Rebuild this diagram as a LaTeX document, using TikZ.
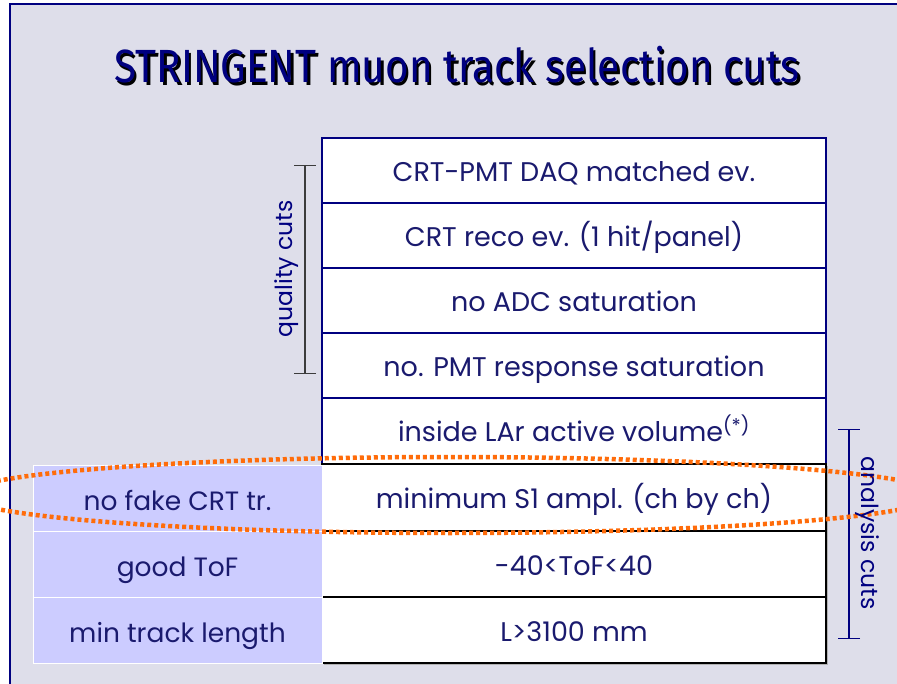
\documentclass[tikz,border=0pt]{standalone}
\usepackage{fontspec}
\setmainfont{Poppins}
\newfontfamily\titlefont{Fira Sans}
\usetikzlibrary{arrows.meta,shadows}
\definecolor{bgcol}{RGB}{222,222,234}
\definecolor{navy}{RGB}{0,0,128}
\definecolor{txtcol}{RGB}{26,26,110}
\definecolor{shade}{RGB}{204,204,255}
\definecolor{dotorange}{RGB}{255,108,10}
\newcommand{\titletext}{STRINGENT muon track selection cuts}
\tikzset{
  cutcell/.style={draw=navy,line width=2pt,fill=white,minimum width=504pt,minimum height=65pt,
    inner sep=0pt,text height=22pt,text depth=0pt,text=txtcol,font=\fontsize{27}{32}\selectfont},
  anacell/.style={cutcell,draw=black,drop shadow={shadow xshift=2pt,shadow yshift=-2pt,fill=gray!60,opacity=1}},
  sidecell/.style={draw=white,line width=0.8pt,fill=shade,minimum width=289pt,minimum height=66pt,
    inner sep=0pt,text height=24pt,text depth=0pt,text=txtcol,font=\fontsize{26.5}{32}\selectfont},
  cutlabel/.style={text=navy,inner sep=0pt,font=\fontsize{23.5}{28}\selectfont},
  cutbrace/.style={line width=1.3pt,{Bar[width=22pt]}-{Bar[width=22pt]}},
}
\begin{document}
\begin{tikzpicture}[x=1pt,y=-1pt]
\useasboundingbox (0,0) rectangle (897,684);
\draw[navy,line width=2pt,fill=bgcol] (10,4) rectangle (910,700);
\node at (457,66) (title) {\titlefont\fontsize{40.5}{46}\selectfont\scalebox{1}[1.15]{\makebox[0pt][l]{\kern2.5pt\raisebox{-2.5pt}{\color{black}\titletext}}\color{navy}\titletext}};

\node[cutcell] at (574,171) (daq) {CRT-PMT DAQ matched ev.};
\node[cutcell] at (574,236) (reco) {CRT reco ev. (1 hit/panel)};
\node[cutcell] at (574,301) (adc) {no ADC saturation};
\node[cutcell] at (574,366) (pmt) {no. PMT response saturation};
\node[cutcell,minimum height=66pt] at (574,431) (vol) {inside LAr active volume\textsuperscript{(*)}};
\node[anacell,minimum height=67pt] at (574,497.5) (ampl) {minimum S1 ampl. (ch by ch)};
\node[anacell,minimum height=66pt] at (574,564) (tof) {-40<ToF<40};
\node[anacell,minimum height=66pt] at (574,630) (len) {L>3100 mm};

\node[sidecell] at (177.5,498) (fake) {no fake CRT tr.};
\node[sidecell] at (177.5,564) (good) {good ToF};
\node[sidecell] at (177.5,630) (mintrack) {min track length};

\coordinate (qtop) at (305,165);
\coordinate (qbot) at (305,374);
\draw[cutbrace,draw={rgb,255:red,60;green,60;blue,60}] (qtop) -- (qbot);
\node[cutlabel,rotate=90] at (287,269) (quality) {quality cuts};

\coordinate (atop) at (849,429);
\coordinate (abot) at (849,639);
\draw[cutbrace,draw=navy] (atop) -- (abot);

\draw[dotorange,line width=4.5pt,dash pattern=on 4pt off 3pt] (450,495) ellipse [x radius=487,y radius=38];
\node[cutlabel,rotate=-90] at (867,533) (analysis) {analysis cuts};
\end{tikzpicture}
\end{document}
